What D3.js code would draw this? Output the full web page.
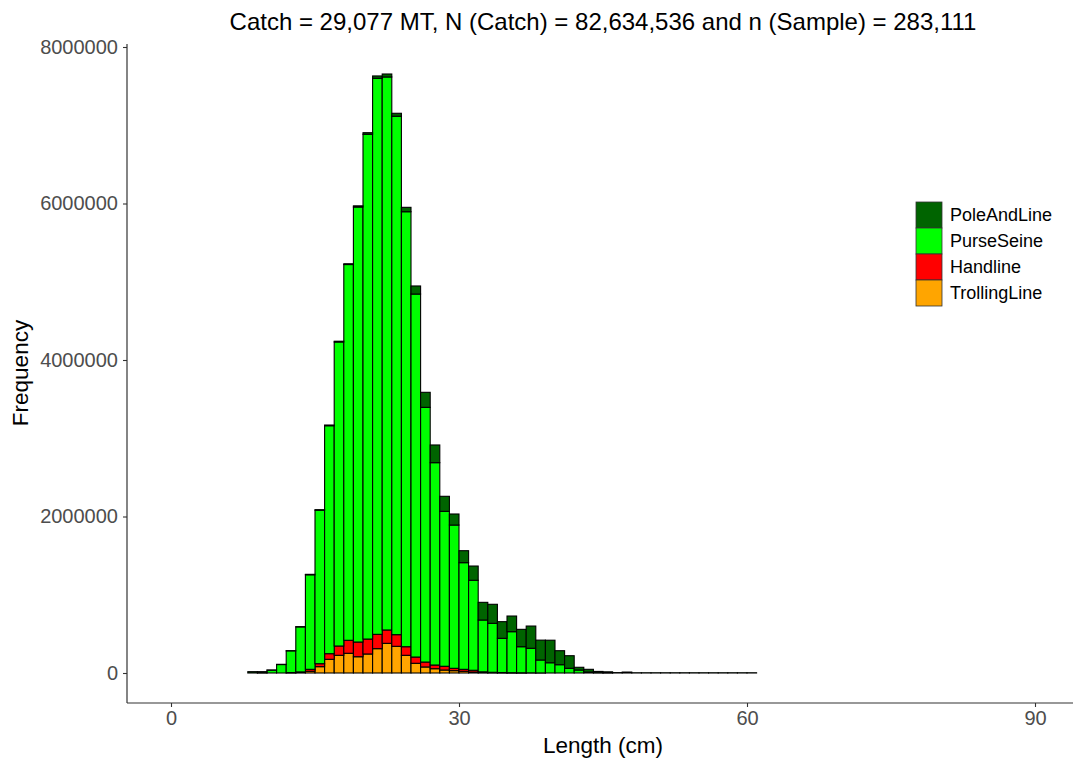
<!DOCTYPE html>
<html>
<head>
<meta charset="utf-8">
<script src="https://cdn.jsdelivr.net/npm/d3@7"></script>
<style>
  html, body { margin: 0; padding: 0; background: #fff; }
  svg { display: block; font-family: "Liberation Sans", Arial, Helvetica, sans-serif; }
</style>
</head>
<body>
<svg id="chart" width="1073" height="761"></svg>
<script>
// Length bins (lower edge, cm), 1 cm wide
const lengths = d3.range(8, 61);
// Frequencies per gear
const trollingLine = [0,0,0,0,2000,6000,22000,81000,175000,226000,252000,208000,243000,311000,379000,341000,226000,124000,77000,55000,38000,30000,22000,12000,5000,3000,2000,1000,1000,0,0,0,0,0,0,0,0,0,0,0,0,0,0,0,0,0,0,0,0,0,0,0,0];
const handline     = [0,0,0,0,4000,8000,25000,38000,72000,119000,166000,188000,191000,183000,171000,149000,110000,80000,63000,47000,48000,30000,25000,23000,10000,6000,4000,3000,2000,2000,1000,0,0,0,0,0,0,0,0,0,0,0,0,0,0,0,0,0,0,0,0,0,0];
const purseSeine   = [0,2000,36000,108000,277000,575000,1208000,1961000,2913000,3885000,4802000,5559000,6451000,7106000,7067000,6625000,5559000,4639000,3255000,2586000,1980000,1831000,1363000,1150000,662000,626000,437000,524000,333000,314000,165000,131000,106000,60000,38000,12000,4000,2000,0,0,0,0,0,0,0,0,0,0,0,0,0,0,0];
const poleAndLine  = [17000,15000,2000,3000,2000,3000,6000,7000,9000,10000,10000,15000,20000,30000,38000,38000,56000,103000,192000,226000,192000,141000,153000,182000,226000,243000,213000,200000,222000,284000,254000,288000,179000,161000,35000,35000,16000,13000,5000,12000,3000,3000,3000,3000,3000,3000,3000,3000,3000,3000,3000,3000,3000];
const gears  = ["TrollingLine", "Handline", "PurseSeine", "PoleAndLine"]; // bottom -> top
const legendOrder = ["PoleAndLine", "PurseSeine", "Handline", "TrollingLine"];
const colors = { PoleAndLine: "#006400", PurseSeine: "#00FF00", Handline: "#FF0000", TrollingLine: "#FFA500" };
const xTicks = [0, 30, 60, 90];
const yTicks = [0, 2000000, 4000000, 6000000, 8000000];
const titleText = "Catch = 29,077 MT, N (Catch) = 82,634,536 and n (Sample) = 283,111";

const rows = lengths.map((L, i) => ({
  L,
  TrollingLine: trollingLine[i],
  Handline: handline[i],
  PurseSeine: purseSeine[i],
  PoleAndLine: poleAndLine[i]
}));

const svg = d3.select("#chart");
const panel = { left: 127, right: 1073, top: 44, bottom: 703 };

const x = d3.scaleLinear().domain([0, 90]).range([171, 1035]);
const y = d3.scaleLinear().domain([0, 8000000]).range([673, 47]);

const stack = d3.stack().keys(gears)(rows);

svg.append("g").selectAll("g")
  .data(stack).join("g")
  .attr("fill", d => colors[d.key])
  .selectAll("rect")
  .data(d => d).join("rect")
  .attr("x", d => x(d.data.L))
  .attr("width", d => x(d.data.L + 1) - x(d.data.L))
  .attr("y", d => y(d[1]))
  .attr("height", d => Math.max(0, y(d[0]) - y(d[1])))
  .attr("stroke", "#000")
  .attr("stroke-width", 1.1);

// Axes
const tickColor = "#333333";
const labelColor = "#4d4d4d";

// y axis
const yAxis = svg.append("g").attr("transform", `translate(${panel.left},0)`)
  .call(d3.axisLeft(y).tickValues(yTicks).tickSize(4).tickPadding(5).tickFormat(d3.format("d")));
yAxis.select(".domain").remove();
yAxis.append("line").attr("x1", 0).attr("x2", 0).attr("y1", panel.top).attr("y2", panel.bottom)
  .attr("stroke", tickColor).attr("stroke-width", 1.2);
yAxis.selectAll(".tick line").attr("stroke", tickColor).attr("stroke-width", 1.1);
yAxis.selectAll(".tick text").attr("fill", labelColor).style("font-size", "20px")
  .style("font-family", "'Liberation Sans', Arial, sans-serif");

// x axis
const xAxis = svg.append("g").attr("transform", `translate(0,${panel.bottom})`)
  .call(d3.axisBottom(x).tickValues(xTicks).tickSize(4).tickPadding(4));
xAxis.select(".domain").remove();
xAxis.append("line").attr("x1", panel.left).attr("x2", panel.right).attr("y1", 0).attr("y2", 0)
  .attr("stroke", tickColor).attr("stroke-width", 1.2);
xAxis.selectAll(".tick line").attr("stroke", tickColor).attr("stroke-width", 1.1);
xAxis.selectAll(".tick text").attr("fill", labelColor).style("font-size", "20px")
  .style("font-family", "'Liberation Sans', Arial, sans-serif");

// titles
svg.append("text").attr("x", 603).attr("y", 30).attr("text-anchor", "middle")
  .style("font-size", "24px").attr("fill", "#000").text(titleText);
svg.append("text").attr("x", 603).attr("y", 753).attr("text-anchor", "middle")
  .style("font-size", "22.5px").attr("fill", "#000").text("Length (cm)");
svg.append("text").attr("transform", "translate(28,373) rotate(-90)").attr("text-anchor", "middle")
  .style("font-size", "22.5px").attr("fill", "#000").text("Frequency");

// legend
const lg = svg.append("g").attr("transform", "translate(916,202)");
const item = lg.selectAll("g").data(legendOrder).join("g")
  .attr("transform", (d, i) => `translate(0,${i * 26})`);
item.append("rect").attr("width", 26).attr("height", 26)
  .attr("fill", d => colors[d]).attr("stroke", "#333").attr("stroke-width", 0.8);
item.append("text").attr("x", 34).attr("y", 13).attr("dy", "0.35em")
  .style("font-size", "18px").attr("fill", "#000").text(d => d);
</script>
</body>
</html>
